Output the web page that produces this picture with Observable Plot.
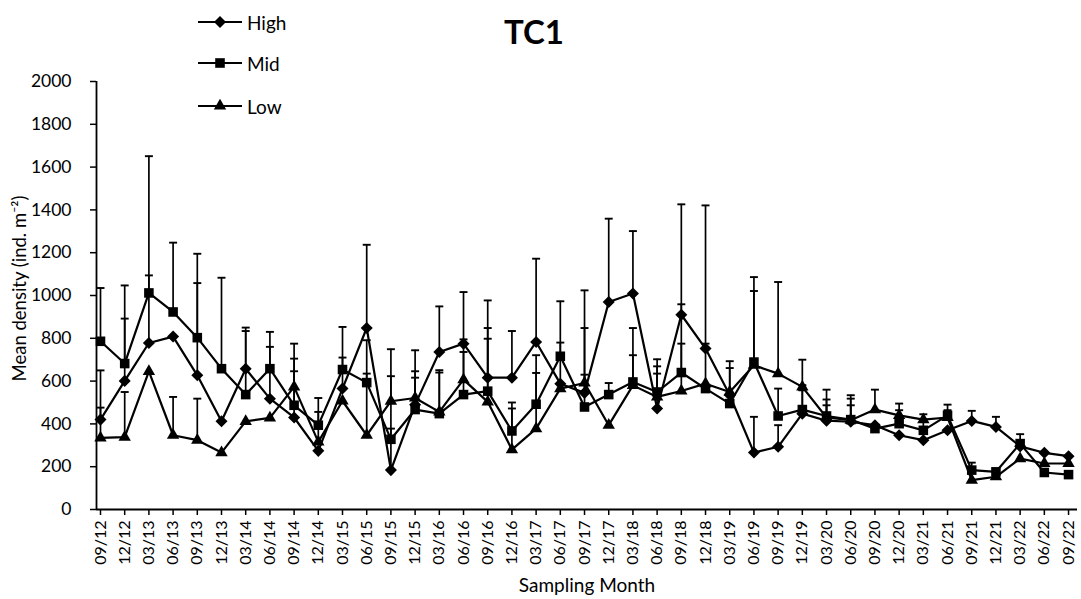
<!DOCTYPE html>
<html>
<head>
<meta charset="utf-8">
<script src="https://cdn.jsdelivr.net/npm/d3@7"></script>
<script src="https://cdn.jsdelivr.net/npm/@observablehq/plot@0.6"></script>
<style>
  body { margin: 0; background: #fff; }
  #wrap { position: relative; width: 1081px; height: 599px; font-family: Lato, "Open Sans", sans-serif; }
  #overlay { position: absolute; left: 0; top: 0; pointer-events: none; }
</style>
</head>
<body>
<div id="wrap"></div>
<script>
const months = ["09/12","12/12","03/13","06/13","09/13","12/13","03/14","06/14","09/14","12/14",
  "03/15","06/15","09/15","12/15","03/16","06/16","09/16","12/16","03/17","06/17",
  "09/17","12/17","03/18","06/18","09/18","12/18","03/19","06/19","09/19","12/19",
  "03/20","06/20","09/20","12/20","03/21","06/21","09/21","12/21","03/22","06/22","09/22"];

const high = [420,601,778,808,627,412,658,518,430,274, 565,848,184,490,736,775,616,616,783,588,
  545,970,1009,472,910,752,535,266,293,448, 415,410,394,347,324,370,414,386,295,265, 249];
const mid = [786,682,1012,923,803,658,537,658,487,394, 654,593,328,467,448,537,553,367,492,716,
  479,537,596,549,640,565,495,689,437,467, 437,420,378,401,370,440,184,176,308,173, 163];
const low = [335,338,645,347,324,266,412,428,573,316, 507,347,506,521,456,607,503,280,378,565,
  591,394,580,526,554,588,549,674,635,573, 430,417,467,440,420,430,137,153,238,215, 215];

// upper error (SD) per point; 0 = no visible bar
const highSD = [230,291,316,0,431,0,192,242,216,0, 145,389,439,156,213,241,361,218,389,192,
  479,389,292,163,516,669,126,167,101,109, 72,77,0,0,0,0,47,47,0,0, 0];
const midSD = [249,365,639,324,392,425,297,172,218,127, 199,198,50,149,203,199,295,133,229,257,
  151,54,252,153,319,0,0,397,128,114, 77,98,0,63,50,50,35,0,44,0, 0];
const lowSD = [141,211,0,179,194,0,0,0,202,140, 0,288,243,223,184,188,295,192,260,0,
  257,0,141,143,221,187,144,347,428,127, 130,117,93,55,25,34,0,0,0,0, 0];

const yTicks = [0,200,400,600,800,1000,1200,1400,1600,1800,2000];
const seriesNames = ["High","Mid","Low"];

const diamond = { draw(ctx, size) { const r = Math.sqrt(size / 2);
  ctx.moveTo(0, -r); ctx.lineTo(r, 0); ctx.lineTo(0, r); ctx.lineTo(-r, 0); ctx.closePath(); } };
const cap = { draw(ctx, size) { const w = Math.sqrt(size) / 2; ctx.moveTo(-w, 0); ctx.lineTo(w, 0); } };

const series = [
  { name: seriesNames[0], values: high, sd: highSD, symbol: diamond, r: 4.8, d3sym: diamond, size: 72 },
  { name: seriesNames[1], values: mid, sd: midSD, symbol: "square", r: 5.4, d3sym: d3.symbolSquare, size: 92 },
  { name: seriesNames[2], values: low, sd: lowSD, symbol: "triangle", r: 4.6, d3sym: d3.symbolTriangle, size: 66 }
];

const marks = [];
for (const s of series) {
  const rows = months.map((m, i) => ({ i, month: m, value: s.values[i], sd: s.sd[i] }));
  const bars = rows.filter(d => d.sd > 0);
  marks.push(
    Plot.ruleX(bars, { x: "i", y1: "value", y2: d => d.value + d.sd, stroke: "black", strokeWidth: 1.7 }),
    Plot.dot(bars, { x: "i", y: d => d.value + d.sd, symbol: cap, r: 4.5, stroke: "black", fill: "none", strokeWidth: 1.9 }),
    Plot.line(rows, { x: "i", y: "value", stroke: "black", strokeWidth: 2.2 }),
    Plot.dot(rows, { x: "i", y: "value", symbol: s.symbol, r: s.r, fill: "black", stroke: "none" })
  );
}

const xMin = -0.165, xMax = 40.37;

const chart = Plot.plot({
  width: 1081,
  height: 599,
  marginLeft: 96,
  marginRight: 4,
  marginTop: 81,
  marginBottom: 90,
  style: { fontFamily: "Lato, 'Open Sans', sans-serif", fontSize: "16px", color: "black", background: "white" },
  x: { type: "linear", domain: [xMin, xMax] },
  y: { domain: [0, 2000] },
  marks: [
    Plot.axisY({ ticks: yTicks, tickFormat: d => String(d), tickSize: 6, tickPadding: 19, fontSize: 17.5, strokeWidth: 1.5, label: null }),
    Plot.axisX({ ticks: d3.range(months.length), tickFormat: i => months[i], tickRotate: -90, tickSize: 6, tickPadding: 5, fontSize: 16, strokeWidth: 1.5, label: null }),
    Plot.ruleY([0], { stroke: "black", strokeWidth: 1.8 }),
    Plot.ruleX([xMin], { stroke: "black", strokeWidth: 1.8 }),
    ...marks,
    Plot.text(["Mean density (ind. m⁻²)"], { frameAnchor: "left", dx: -76, dy: -7, rotate: -90, textAnchor: "middle", lineAnchor: "middle", fontSize: 18.5, fill: "black" }),
    Plot.text(["Sampling Month"], { frameAnchor: "bottom", dy: 76, textAnchor: "middle", lineAnchor: "middle", fontSize: 19, fill: "black" })
  ]
});

const wrap = document.getElementById("wrap");
wrap.appendChild(chart);

// Title and legend overlay
const ov = d3.select(wrap).append("svg").attr("id", "overlay").attr("width", 1081).attr("height", 130)
  .style("font-family", "Lato, 'Open Sans', sans-serif");
ov.append("text").attr("x", 534).attr("y", 31).attr("text-anchor", "middle").attr("dominant-baseline", "central")
  .attr("font-size", 33).attr("font-weight", "bold").attr("fill", "black").text("TC1");

const legY = [22, 63, 106];
series.forEach((s, k) => {
  const g = ov.append("g").attr("transform", `translate(0,${legY[k]})`);
  g.append("line").attr("x1", 198).attr("x2", 242).attr("y1", 0).attr("y2", 0).attr("stroke", "black").attr("stroke-width", 2);
  g.append("path").attr("transform", "translate(220,0)").attr("d", d3.symbol(s.d3sym, s.size)()).attr("fill", "black");
  g.append("text").attr("x", 247).attr("y", 0).attr("dominant-baseline", "central").attr("font-size", 19).attr("fill", "black").text(s.name);
});
</script>
</body>
</html>
